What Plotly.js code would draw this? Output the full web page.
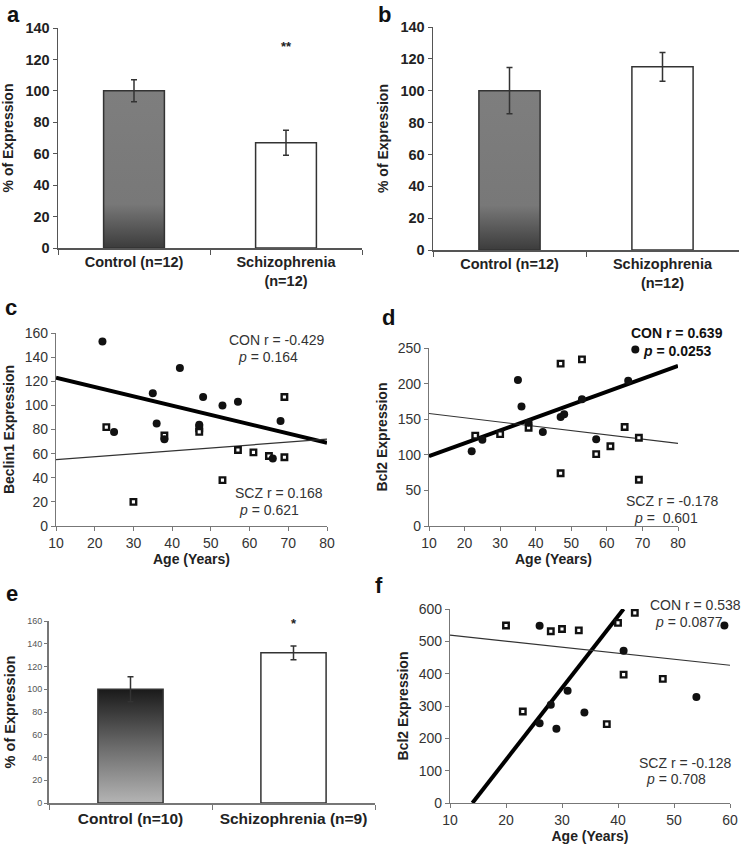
<!DOCTYPE html>
<html>
<head>
<meta charset="utf-8">
<script src="https://cdn.plot.ly/plotly-3.0.1.min.js"></script>
<style>html,body{margin:0;padding:0;background:#fff;}#chart{width:746px;height:845px;}</style>
</head>
<body>
<div id="chart"></div>
<script>
// ---------- DATA ----------
const abCats = ['Control (n=12)', 'Schizophrenia<br>(n=12)'];
const aVals = [100, 67];
const aErr = [7, 8];
const bVals = [100, 115];
const bErr = [14.5, 9];

const eCats = ['Control (n=10)', 'Schizophrenia (n=9)'];
const eVals = [100, 132];
const eErr = [11, 6];

const cConAge = [22, 25, 35, 36, 38, 42, 47, 48, 53, 57, 66, 68];
const cConVal = [153, 78, 110, 85, 72, 131, 84, 107, 100, 103, 56, 87];
const cSczAge = [23, 30, 38, 47, 47, 53, 57, 61, 65, 69, 69];
const cSczVal = [82, 20, 75, 81, 78, 38, 63, 61, 58, 57, 107];
const cConFitX = [10, 80], cConFitY = [123, 69];
const cSczFitX = [10, 80], cSczFitY = [55, 72];

const dConAge = [22, 25, 35, 36, 38, 42, 47, 48, 53, 57, 66, 68];
const dConVal = [105, 121, 205, 168, 145, 132, 153, 157, 178, 122, 204, 248];
const dSczAge = [23, 30, 38, 47, 47, 53, 57, 61, 65, 69, 69];
const dSczVal = [127, 129, 138, 228, 74, 234, 101, 112, 139, 124, 65];
const dConFitX = [10, 80], dConFitY = [98, 225];
const dSczFitX = [10, 80], dSczFitY = [158, 116];

const fConAge = [26, 26, 28, 29, 31, 34, 41, 54, 59];
const fConVal = [548, 247, 304, 230, 347, 280, 471, 328, 549];
const fSczAge = [20, 23, 28, 30, 33, 38, 40, 41, 43, 48];
const fSczVal = [549, 283, 531, 538, 534, 244, 557, 397, 588, 384];
const fConFitX = [14, 41], fConFitY = [0, 600];
const fSczFitX = [10, 60], fSczFitY = [519, 426];

// ---------- LAYOUT HELPERS ----------
const W = 746, H = 845;
const px = v => v / W;
const py = v => 1 - v / H;
const FONT = 'Liberation Sans, Arial, sans-serif';

function barTrace(cats, vals, errs, ax, ctrlColor) {
  return {
    type: 'bar', x: cats, y: vals, width: 0.4,
    xaxis: 'x' + ax, yaxis: 'y' + ax,
    marker: { color: [ctrlColor, '#ffffff'], line: { color: '#333', width: 1.5 } },
    error_y: { type: 'data', array: errs, visible: true, color: '#333', thickness: 1.5, width: 3 },
    hoverinfo: 'none', showlegend: false
  };
}
function pts(x, y, ax, con) {
  return {
    type: 'scatter', mode: 'markers', x: x, y: y, xaxis: 'x' + ax, yaxis: 'y' + ax,
    marker: con ? { symbol: 'circle', size: 8, color: '#111' }
                : { symbol: 'square', size: 5.5, color: '#fff', line: { color: '#111', width: 2.4 } },
    showlegend: false, hoverinfo: 'none', cliponaxis: false
  };
}
function fit(x, y, ax, con) {
  return {
    type: 'scatter', mode: 'lines', x: x, y: y, xaxis: 'x' + ax, yaxis: 'y' + ax,
    line: { color: con ? '#000' : '#333', width: con ? 4 : 1.2 },
    showlegend: false, hoverinfo: 'none', cliponaxis: false
  };
}

const data = [
  barTrace(abCats, aVals, aErr, '', 'rgb(128,128,128)'),
  barTrace(abCats, bVals, bErr, '2', 'rgb(128,128,128)'),
  fit(cConFitX, cConFitY, '3', true), fit(cSczFitX, cSczFitY, '3', false),
  pts(cSczAge, cSczVal, '3', false), pts(cConAge, cConVal, '3', true),
  fit(dConFitX, dConFitY, '4', true), fit(dSczFitX, dSczFitY, '4', false),
  pts(dSczAge, dSczVal, '4', false), pts(dConAge, dConVal, '4', true),
  barTrace(eCats, eVals, eErr, '5', 'rgb(60,60,60)'),
  fit(fConFitX, fConFitY, '6', true), fit(fSczFitX, fSczFitY, '6', false),
  pts(fSczAge, fSczVal, '6', false), pts(fConAge, fConVal, '6', true)
];

function catX(l, r, anchor, size) {
  return {
    domain: [px(l), px(r)], anchor: anchor, type: 'category', range: [-0.5, 1.5],
    showline: true, linecolor: '#555', linewidth: 1.5, ticks: 'outside', tickson: 'boundaries',
    ticklen: 5, tickcolor: '#555', showgrid: false, zeroline: false,
    tickfont: { family: FONT, size: size || 14.5, color: '#222', weight: 'bold' }, fixedrange: true
  };
}
function barY(b, t, max, dtick, anchor, tsize, tcolor, tweight, titleSize) {
  return {
    domain: [py(b), py(t)], anchor: anchor, range: [0, max], dtick: dtick,
    showline: true, linecolor: '#555', linewidth: 1.5, ticks: 'outside', ticklen: 4, tickcolor: '#555',
    showgrid: false, zeroline: false,
    tickfont: { family: FONT, size: tsize, color: tcolor, weight: tweight },
    title: { text: '% of Expression', font: { family: FONT, size: titleSize || 14, color: '#222', weight: 'bold' }, standoff: 8 },
    fixedrange: true
  };
}
function numX(l, r, min, max, dtick, anchor, title) {
  return {
    domain: [px(l), px(r)], anchor: anchor, range: [min, max], dtick: dtick,
    showline: true, linecolor: '#777', linewidth: 1.2, ticks: 'outside', ticklen: 4, tickcolor: '#777',
    showgrid: false, zeroline: false,
    tickfont: { family: FONT, size: 14, color: '#333' },
    title: { text: title, font: { family: FONT, size: 14, color: '#222', weight: 'bold' }, standoff: 2 },
    fixedrange: true
  };
}
function numY(b, t, max, dtick, anchor, title) {
  return {
    domain: [py(b), py(t)], anchor: anchor, range: [0, max], dtick: dtick,
    showline: true, linecolor: '#777', linewidth: 1.2, ticks: 'outside', ticklen: 4, tickcolor: '#777',
    showgrid: false, zeroline: false,
    tickfont: { family: FONT, size: 14, color: '#333' },
    title: { text: title, font: { family: FONT, size: 14, color: '#222', weight: 'bold' }, standoff: 6 },
    fixedrange: true
  };
}

function ann(x, y, text, opts) {
  return Object.assign({
    xref: 'paper', yref: 'paper', x: px(x), y: py(y), text: text, showarrow: false,
    xanchor: 'center', yanchor: 'middle',
    font: { family: FONT, size: 14, color: '#333' }
  }, opts || {});
}
const letter = (x, y, t) => ann(x, y, '<b>' + t + '</b>', { font: { family: FONT, size: 22, color: '#111' } });

const layout = {
  width: W, height: H, margin: { l: 0, r: 0, t: 0, b: 0 },
  paper_bgcolor: '#fff', plot_bgcolor: 'rgba(0,0,0,0)',
  showlegend: false, bargap: 0.6,
  xaxis: catX(58, 362, 'y'),
  yaxis: barY(248, 28, 140, 20, 'x', 14.5, '#222', 'bold'),
  xaxis2: catX(433, 739, 'y2'),
  yaxis2: barY(250, 27, 140, 20, 'x2', 14.5, '#222', 'bold'),
  xaxis3: numX(56, 327, 10, 80, 10, 'y3', 'Age (Years)'),
  yaxis3: numY(526, 333, 160, 20, 'x3', 'Beclin1 Expression'),
  xaxis4: numX(429, 678, 10, 80, 10, 'y4', 'Age (Years)'),
  yaxis4: numY(526, 348, 250, 50, 'x4', 'Bcl2 Expression'),
  xaxis5: Object.assign(catX(49, 375, 'y5', 15.5), { linecolor: '#777', linewidth: 2, tickcolor: '#777' }),
  yaxis5: Object.assign(barY(803, 621, 160, 20, 'x5', 9, '#555', 'normal', 14.5), { linecolor: '#777', linewidth: 2, tickcolor: '#777', ticklen: 3 }),
  xaxis6: numX(450, 730, 10, 60, 10, 'y6', 'Age (Years)'),
  yaxis6: numY(803, 609, 600, 100, 'x6', 'Bcl2 Expression'),
  annotations: [
    letter(13, 14, 'a'), letter(384, 14, 'b'), letter(11, 308, 'c'), letter(388, 317, 'd'),
    letter(12, 593, 'e'), letter(379, 585, 'f'),
    { xref: 'x', yref: 'y', x: 1, y: 128, text: '<b>**</b>', showarrow: false, font: { family: FONT, size: 13, color: '#222' } },
    { xref: 'x5', yref: 'y5', x: 1, y: 158, text: '<b>*</b>', showarrow: false, font: { family: FONT, size: 13, color: '#222' } },
    ann(277, 340, 'CON r = -0.429'), ann(268, 357, '<i>p</i> = 0.164'),
    ann(279, 493, 'SCZ r = 0.168'), ann(269, 510, '<i>p</i> = 0.621'),
    ann(677, 333, '<b>CON r = 0.639</b>', { font: { family: FONT, size: 14, color: '#111' } }),
    ann(677, 351, '<b><i>p</i> = 0.0253</b>', { font: { family: FONT, size: 14, color: '#111' } }),
    ann(672, 501, 'SCZ r = -0.178'), ann(666, 518, '<i>p</i> =  0.601'),
    ann(695, 605, 'CON r = 0.538'), ann(689, 622, '<i>p</i> = 0.0877'),
    ann(685, 763, 'SCZ r = -0.128'), ann(676, 779, '<i>p</i> = 0.708')
  ]
};

Plotly.newPlot('chart', data, layout, { staticPlot: true, displayModeBar: false }).then(function (gd) {
  const NS = 'http://www.w3.org/2000/svg';
  const svg = gd.querySelector('.main-svg');
  let defs = svg.querySelector('defs');
  if (!defs) { defs = document.createElementNS(NS, 'defs'); svg.insertBefore(defs, svg.firstChild); }
  function grad(id, stops) {
    const g = document.createElementNS(NS, 'linearGradient');
    g.setAttribute('id', id); g.setAttribute('x1', '0'); g.setAttribute('y1', '0');
    g.setAttribute('x2', '0'); g.setAttribute('y2', '1');
    stops.forEach(s => {
      const st = document.createElementNS(NS, 'stop');
      st.setAttribute('offset', s[0]); st.setAttribute('stop-color', s[1]);
      g.appendChild(st);
    });
    defs.appendChild(g);
  }
  grad('gradAB', [[0, '#7e7e7e'], [0.72, '#787878'], [1, '#3c3c3c']]);
  grad('gradE', [[0, '#1a1a1a'], [0.5, '#6a6a6a'], [1, '#b4b4b4']]);
  gd.querySelectorAll('.bars .point path').forEach(p => {
    const f = p.style.fill.replace(/\s/g, '');
    if (f === 'rgb(128,128,128)') p.style.fill = 'url(#gradAB)';
    else if (f === 'rgb(60,60,60)') p.style.fill = 'url(#gradE)';
  });
});
</script>
</body>
</html>
